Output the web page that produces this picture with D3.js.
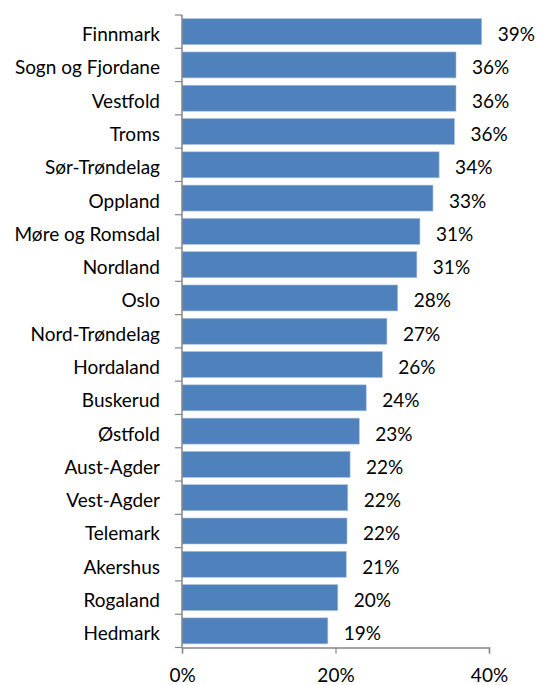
<!DOCTYPE html>
<html><head><meta charset="utf-8">
<script src="https://cdn.jsdelivr.net/npm/d3@7"></script>
<style>body{margin:0;background:#fff}svg{display:block}text{font-family:Lato,"Open Sans",sans-serif;fill:#000}</style>
</head><body><svg id="c" width="537" height="685"></svg>
<script>
const categories = ["Finnmark","Sogn og Fjordane","Vestfold","Troms","Sør-Trøndelag","Oppland","Møre og Romsdal","Nordland","Oslo","Nord-Trøndelag","Hordaland","Buskerud","Østfold","Aust-Agder","Vest-Agder","Telemark","Akershus","Rogaland","Hedmark"];
const values = [39.05,35.7,35.7,35.5,33.5,32.7,31.0,30.6,28.1,26.7,26.1,24.0,23.1,21.9,21.6,21.5,21.4,20.3,19.0];
const labels = ["39%","36%","36%","36%","34%","33%","31%","31%","28%","27%","26%","24%","23%","22%","22%","22%","21%","20%","19%"];
const xTicks = [0,20,40];

const FS = 19;
const svg = d3.select("#c");
const x = d3.scaleLinear().domain([0,40]).range([182,489]);
const y = d3.scaleBand().domain(categories).range([15,647.5]).paddingInner(0.22).paddingOuter(0.11);
const band = d3.scaleBand().domain(categories).range([15,647.5]);

svg.selectAll("rect.bar").data(categories).join("rect")
  .attr("x", x(0)).attr("y", d=>y(d))
  .attr("width", (d,i)=>x(values[i])-x(0)).attr("height", y.bandwidth())
  .attr("fill","#4F81BD").attr("stroke","#a9c1e0").attr("stroke-width",0.6);

svg.selectAll("text.val").data(categories).join("text")
  .attr("x",(d,i)=>x(values[i])+16).attr("y",d=>y(d)+y.bandwidth()/2+2)
  .attr("dominant-baseline","central").attr("font-size",FS).text((d,i)=>labels[i]);

svg.selectAll("text.cat").data(categories).join("text")
  .attr("x",160).attr("y",d=>band(d)+band.bandwidth()/2+2)
  .attr("dominant-baseline","central").attr("text-anchor","end").attr("font-size",FS).text(d=>d);

const axisColor="#868686";
svg.append("line").attr("x1",x(0)).attr("x2",x(0)).attr("y1",15).attr("y2",647.5).attr("stroke",axisColor).attr("stroke-width",1.5);
const bounds = categories.map(d=>band(d)).concat([647.5]);
svg.selectAll("line.yt").data(bounds).join("line")
  .attr("x1",x(0)-7).attr("x2",x(0)).attr("y1",d=>d).attr("y2",d=>d).attr("stroke",axisColor).attr("stroke-width",1.2);

const xa = svg.append("g").attr("transform","translate(0,647.5)")
  .call(d3.axisBottom(x).tickValues(xTicks).tickFormat(d=>d+"%").tickSize(6).tickPadding(15));
xa.select(".domain").attr("stroke",axisColor).attr("stroke-width",1.5);
xa.selectAll(".tick line").attr("stroke",axisColor).attr("stroke-width",1.2);
xa.selectAll(".tick text").attr("font-size",FS).attr("font-family","Lato,'Open Sans',sans-serif").attr("fill","#000");
</script></body></html>
